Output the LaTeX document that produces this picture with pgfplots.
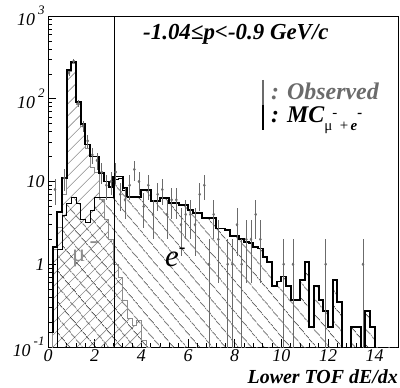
\documentclass[border=0pt]{standalone}
\usepackage{fontspec}
\setmainfont{Liberation Serif}
\usepackage{pgfplots}
\usepackage{pgfplotstable}
\pgfplotsset{compat=1.18}
\usetikzlibrary{patterns.meta}

\definecolor{obsgray}{gray}{0.42}
\definecolor{mugray}{gray}{0.55}

\newcommand\tenpow[1]{10\,\raisebox{0.6em}{\fontsize{13}{13}\selectfont #1}}

% MC total (mu- + e-), bin left edges, 0.2 wide
\pgfplotstableread{
x y
0.0 0.15
0.2 1.6
0.4 4.3
0.6 11
0.8 222
1.0 277
1.2 92
1.4 50
1.6 28
1.8 20
2.0 20
2.2 12.6
2.4 10
2.6 8.5
2.8 11.5
3.0 11.5
3.2 8.3
3.4 6.6
3.6 6.6
3.8 6.6
4.0 7.9
4.2 7.9
4.4 5.8
4.6 5.8
4.8 6.3
5.0 6.3
5.2 5.5
5.4 5.5
5.6 5.2
5.8 5.2
6.0 4.5
6.2 4.2
6.4 4.2
6.6 3.6
6.8 3.6
7.0 3.6
7.2 2.7
7.4 2.7
7.6 2.6
7.8 2.2
8.0 2.2
8.2 2.0
8.4 1.85
8.6 1.8
8.8 1.6
9.0 1.55
9.2 1.23
9.4 1.07
9.6 0.54
9.8 0.62
10.0 0.71
10.2 0.54
10.4 0.37
10.6 0.37
10.8 0.64
11.0 1.07
11.2 0.176
11.4 0.54
11.6 0.37
11.8 0.27
12.0 0.176
12.2 0.64
12.4 0.35
12.6 0.001
12.8 0.001
13.0 0.176
13.2 0.176
13.4 0.001
13.6 0.27
13.8 0.176
14.0 0.001
15.0 0.001
}\mctotal

% MC e- component
\pgfplotstableread{
x y
0.0 0.001
0.2 0.001
0.4 1.5
0.6 3.9
0.8 5.5
1.0 6.5
1.2 5.5
1.4 3.5
1.6 3.2
1.8 4.5
2.0 6.5
2.2 6.5
2.4 6.5
2.6 6.5
2.8 10.5
3.0 10.8
3.2 7.9
3.4 6.4
3.6 6.4
3.8 6.4
4.0 7.8
4.2 7.8
4.4 5.8
4.6 5.8
4.8 6.3
5.0 6.3
5.2 5.5
5.4 5.5
5.6 5.2
5.8 5.2
6.0 4.5
6.2 4.2
6.4 4.2
6.6 3.6
6.8 3.6
7.0 3.6
7.2 2.7
7.4 2.7
7.6 2.6
7.8 2.2
8.0 2.2
8.2 2.0
8.4 1.85
8.6 1.8
8.8 1.6
9.0 1.55
9.2 1.23
9.4 1.07
9.6 0.54
9.8 0.62
10.0 0.71
10.2 0.54
10.4 0.37
10.6 0.37
10.8 0.64
11.0 1.07
11.2 0.176
11.4 0.54
11.6 0.37
11.8 0.27
12.0 0.176
12.2 0.64
12.4 0.35
12.6 0.001
12.8 0.001
13.0 0.176
13.2 0.176
13.4 0.001
13.6 0.27
13.8 0.176
14.0 0.001
15.0 0.001
}\mcel

% MC mu- component
\pgfplotstableread{
x y
0.0 0.001
0.2 1.5
0.4 2.8
0.6 7
0.8 215
1.0 270
1.2 86
1.4 46
1.6 25
1.8 15
2.0 13
2.2 6
2.4 3.5
2.6 2
2.8 1.0
3.0 0.7
3.2 0.37
3.4 0.22
3.6 0.18
3.8 0.21
4.0 0.12
4.2 0.1
4.4 0.001
15.0 0.001
}\mcmu

\begin{document}
\begin{tikzpicture}
\begin{axis}[
  name=ax, at={(0,0)}, anchor=south west,
  scale only axis, width=350bp, height=331bp,
  xmin=0, xmax=15, ymin=0.1, ymax=1000,
  ymode=log, log origin=infty,
  axis line style={line width=0.8bp},
  tick align=inside, xtick pos=left, ytick pos=left,
  xtick={0,2,...,14}, xticklabels={0,2,4,6,8,10,12,14},
  minor x tick num=4,
  ytick={0.1,1,10,100,1000},
  yticklabels={\tenpow{-1},1,10,\tenpow{2},\tenpow{3}},
  minor ytick={0.2,0.3,0.4,0.5,0.6,0.7,0.8,0.9,2,3,4,5,6,7,8,9,20,30,40,50,60,70,80,90,200,300,400,500,600,700,800,900},
  major tick length=8bp, minor tick length=4bp,
  tick style={line width=0.6bp, black},
  ticklabel style={font=\fontsize{18}{18}\selectfont\itshape},
  xticklabel style={yshift=-1bp, inner ysep=1bp},
]
% hatched components
\addplot[const plot mark left, draw=none,
  pattern={Lines[angle=45,distance=8.5bp,line width=0.6bp]}, pattern color=mugray]
  table {\mcmu} \closedcycle;
\addplot[const plot mark left, draw=none,
  pattern={Lines[angle=-50,distance=10bp,line width=0.6bp]}, pattern color=black]
  table {\mcel} \closedcycle;
% component outlines
\addplot[const plot mark left, mugray, line width=0.8bp] table {\mcmu};
\addplot[const plot mark left, black, line width=0.6bp] table {\mcel};
% total MC
\addplot[const plot mark left, black, line width=1.8bp] table {\mctotal};
% observed events
\addplot[only marks, obsgray, mark=diamond*, mark size=1.4bp,
  error bars/.cd, y dir=both, y explicit,
  error bar style={obsgray, line width=0.9bp}, error mark=none]
  coordinates {
  (0.3,8) +- (0,2.83)
  (0.7,11) +- (0,3.32)
  (0.9,205) +- (0,14.3)
  (1.1,285) +- (0,16.9)
  (1.3,88) +- (0,9.38)
  (1.5,47) +- (0,6.86)
  (1.7,31) +- (0,5.57)
  (1.9,21) +- (0,4.58)
  (2.1,18) +- (0,4.24)
  (2.3,13) +- (0,3.61)
  (2.5,9) +- (0,3.0)
  (2.7,10) +- (0,3.16)
  (2.9,13) +- (0,3.61)
  (3.1,7) +- (0,2.65)
  (3.3,6) +- (0,2.45)
  (3.5,9) +- (0,3.0)
  (3.7,14) +- (0,3.74)
  (3.9,10) +- (0,3.16)
  (4.1,5) +- (0,2.24)
  (4.3,9) +- (0,3.0)
  (4.5,4) +- (0,2.0)
  (4.7,7) +- (0,2.65)
  (4.9,8) +- (0,2.83)
  (5.1,4) +- (0,2.0)
  (5.3,6) +- (0,2.45)
  (5.5,6) +- (0,2.45)
  (5.7,3) +- (0,1.73)
  (5.9,4) +- (0,2.0)
  (6.1,4) +- (0,2.0)
  (6.3,3) +- (0,1.73)
  (6.5,7) +- (0,2.65)
  (6.7,9) +- (0,3.0)
  (6.9,1) += (0,1) -= (0,0.999)
  (7.1,4) +- (0,2.0)
  (7.3,2) +- (0,1.41)
  (7.7,1) += (0,1) -= (0,0.999)
  (7.9,1) += (0,1) -= (0,0.999)
  (8.1,3) +- (0,1.73)
  (8.3,1) += (0,1) -= (0,0.999)
  (8.5,2) +- (0,1.41)
  (8.7,2) +- (0,1.41)
  (8.9,4) +- (0,2.0)
  (9.1,2) +- (0,1.41)
  (10.1,1) += (0,1) -= (0,0.999)
  (10.5,1) += (0,1) -= (0,0.999)
  (11.9,1) += (0,1) -= (0,0.999)
  (13.5,1) += (0,1) -= (0,0.999)
  };
% selection cut
\addplot[black, line width=0.6bp] coordinates {(2.85,0.1) (2.85,1000)};
\end{axis}
% component labels
\node[anchor=base west, inner sep=0pt, text=mugray, font=\fontsize{25}{25}\selectfont]
  at ([shift={(24bp,85bp)}]ax.south west) {μ\raisebox{0.55em}{\,-}};
\node[anchor=base west, inner sep=0pt, font=\fontsize{31}{31}\selectfont\itshape]
  at ([shift={(117bp,80bp)}]ax.south west) {e\raisebox{0.45em}{\fontsize{20}{20}\selectfont -}};
% title
\node[anchor=base west, inner sep=0pt, font=\fontsize{23}{23}\selectfont\bfseries\itshape]
  at ([shift={(95bp,307bp)}]ax.south west) {-1.04≤p<-0.9 GeV/c};
% legend
\draw[obsgray, line width=1.2bp] ([shift={(215bp,267bp)}]ax.south west) -- ++(0,-25bp);
\draw[black, line width=1.2bp] ([shift={(215bp,242bp)}]ax.south west) -- ++(0,-25bp);
\node[anchor=base west, inner sep=0pt, text=obsgray, font=\fontsize{24}{24}\selectfont\bfseries\itshape]
  at ([shift={(223bp,247bp)}]ax.south west) {: Observed};
\node[anchor=base west, inner sep=0pt, font=\fontsize{24}{24}\selectfont\bfseries\itshape]
  at ([shift={(223bp,224bp)}]ax.south west) {: MC\raisebox{-0.3em}{\fontsize{15}{15}\selectfont\mdseries\upshape μ\raisebox{0.85em}{-}\,+\,\bfseries\itshape e\raisebox{0.85em}{-}}};
% axis title
\node[anchor=base east, inner sep=0pt, font=\fontsize{20}{20}\selectfont\bfseries\itshape]
  at ([yshift=-36bp]ax.south east) {Lower TOF dE/dx};
\pgfresetboundingbox
\path[use as bounding box] ([shift={(-48bp,-41bp)}]ax.south west) rectangle ([shift={(2bp,16bp)}]ax.north east);
\end{tikzpicture}
\end{document}
